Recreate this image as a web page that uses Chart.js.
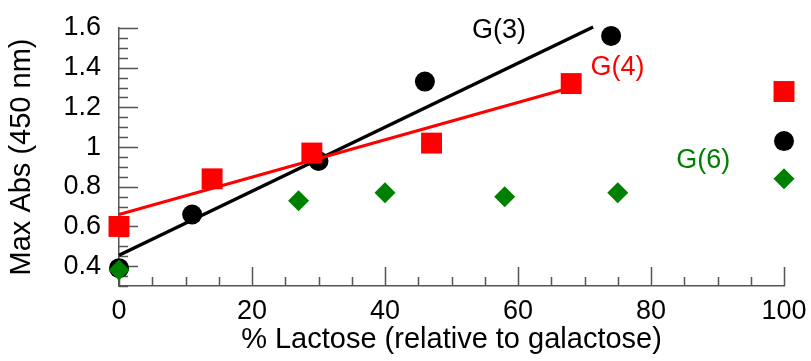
<!DOCTYPE html>
<html>
<head>
<meta charset="utf-8">
<script src="https://cdn.jsdelivr.net/npm/chart.js@4"></script>
<style>
  html, body { margin: 0; padding: 0; background: #fff; }
</style>
</head>
<body>
<canvas id="grafico" width="811" height="361"></canvas>
<script>
// dados
const lactoseG3 = [0, 11, 30, 46, 74, 100];
const absG3 = [0.39, 0.66, 0.93, 1.33, 1.56, 1.03];
const lactoseG4 = [0, 14, 29, 47, 68, 100];
const absG4 = [0.60, 0.84, 0.97, 1.02, 1.32, 1.28];
const lactoseG6 = [0, 27, 40, 58, 75, 100];
const absG6 = [0.38, 0.73, 0.77, 0.75, 0.77, 0.84];

// retas de ajuste (extremos)
const fitG3X = [0, 71.3];
const fitG3Y = [0.455, 1.605];
const fitG4X = [0, 68];
const fitG4Y = [0.66, 1.30];

const xTicks = [0, 20, 40, 60, 80, 100];
const yTicks = [0.4, 0.6, 0.8, 1, 1.2, 1.4, 1.6];
const yTickLabels = ['0.4', '0.6', '0.8', '1', '1.2', '1.4', '1.6'];

const seriesNames = ['G(3)', 'G(4)', 'G(6)'];
const nameAnchorX = [53.1, 70.9, 83.8];
const nameAnchorY = [1.585, 1.40, 0.93];

const preto = '#000000';
const vermelho = '#ff0000';
const verde = '#008000';
const corEixo = '#555555';

function pontos(xs, ys) {
  return xs.map((x, i) => ({ x: x, y: ys[i] }));
}

// sem folga extra dos rótulos, a área fica presa pelo padding do layout
function semFolga(s) {
  s.paddingTop = 0;
  s.paddingBottom = 0;
  s.paddingLeft = 0;
  s.paddingRight = 0;
}

Chart.defaults.font.family = "'Liberation Sans', Arial, sans-serif";
Chart.defaults.color = '#000';

// marcas dos eixos para dentro
const marcasEixos = {
  id: 'marcasEixos',
  beforeDatasetsDraw(chart) {
    const ctx = chart.ctx;
    const sx = chart.scales.x, sy = chart.scales.y;
    const area = chart.chartArea;
    ctx.save();
    ctx.strokeStyle = corEixo;
    ctx.lineWidth = 1.5;
    ctx.beginPath();
    for (let k = 0; k <= 20; k++) {
      const v = k * 5;
      const px = Math.round(sx.getPixelForValue(v)) + 0.5;
      const len = (v % 20 === 0) ? 19 : 9;
      ctx.moveTo(px, area.bottom);
      ctx.lineTo(px, area.bottom - len);
    }
    for (let k = 0; k <= 26; k++) {
      const v = 0.3 + k * 0.05;
      const py = Math.round(sy.getPixelForValue(v)) + 0.5;
      const major = yTicks.some(t => Math.abs(t - v) < 1e-6);
      const len = major ? 19 : 9;
      ctx.moveTo(area.left, py);
      ctx.lineTo(area.left + len, py);
    }
    ctx.stroke();
    ctx.restore();
  }
};

// nomes das séries
const nomesSeries = {
  id: 'nomesSeries',
  afterDatasetsDraw(chart) {
    const ctx = chart.ctx;
    const sx = chart.scales.x, sy = chart.scales.y;
    const cores = [preto, vermelho, verde];
    ctx.save();
    ctx.font = "27px 'Liberation Sans', Arial, sans-serif";
    ctx.textAlign = 'left';
    ctx.textBaseline = 'middle';
    seriesNames.forEach((nome, i) => {
      ctx.fillStyle = cores[i];
      ctx.fillText(nome, sx.getPixelForValue(nameAnchorX[i]), sy.getPixelForValue(nameAnchorY[i]));
    });
    ctx.restore();
  }
};

const ctxGrafico = document.getElementById('grafico').getContext('2d');
new Chart(ctxGrafico, {
  type: 'scatter',
  data: {
    datasets: [
      {
        label: 'G(6)',
        data: pontos(lactoseG6, absG6),
        pointStyle: 'rectRot',
        pointRadius: 10.5,
        pointBorderWidth: 0,
        backgroundColor: verde,
        borderColor: verde,
        order: 0,
        clip: false
      },
      {
        label: 'G(4)',
        data: pontos(lactoseG4, absG4),
        pointStyle: 'rect',
        pointRadius: 14.8,
        pointBorderWidth: 0,
        backgroundColor: vermelho,
        borderColor: vermelho,
        order: 1,
        clip: false
      },
      {
        label: 'ajuste G(4)',
        data: pontos(fitG4X, fitG4Y),
        showLine: true,
        pointRadius: 0,
        borderColor: vermelho,
        borderWidth: 3,
        order: 2,
        clip: false
      },
      {
        label: 'G(3)',
        data: pontos(lactoseG3, absG3),
        pointStyle: 'circle',
        pointRadius: 10,
        pointBorderWidth: 0,
        backgroundColor: preto,
        borderColor: preto,
        order: 3,
        clip: false
      },
      {
        label: 'ajuste G(3)',
        data: pontos(fitG3X, fitG3Y),
        showLine: true,
        pointRadius: 0,
        borderColor: preto,
        borderWidth: 3.5,
        order: 4,
        clip: false
      }
    ]
  },
  options: {
    responsive: false,
    animation: false,
    events: [],
    layout: { autoPadding: false, padding: { top: 28, right: 27, left: 0, bottom: 0 } },
    plugins: {
      legend: { display: false },
      tooltip: { enabled: false }
    },
    scales: {
      x: {
        type: 'linear',
        min: 0,
        max: 100,
        afterFit: s => { s.height = 75; semFolga(s); },
        afterBuildTicks: s => { s.ticks = xTicks.map(v => ({ value: v })); },
        grid: { display: false, drawTicks: false },
        border: { display: true, color: corEixo, width: 1.5 },
        ticks: {
          padding: 9,
          maxRotation: 0,
          font: { size: 27 },
          callback: v => String(v)
        },
        title: {
          display: true,
          text: '% Lactose (relative to galactose)',
          font: { size: 29 },
          padding: { top: 0, bottom: 4 }
        }
      },
      y: {
        type: 'linear',
        min: 0.3,
        max: 1.6,
        afterFit: s => { s.width = 119; semFolga(s); },
        afterBuildTicks: s => { s.ticks = yTicks.map(v => ({ value: v })); },
        grid: { display: false, drawTicks: false },
        border: { display: true, color: corEixo, width: 1.5 },
        ticks: {
          padding: 18,
          font: { size: 27 },
          callback: (v, i) => yTickLabels[i]
        },
        title: {
          display: true,
          text: 'Max Abs (450 nm)',
          font: { size: 29 },
          padding: { top: 5, bottom: 0 }
        }
      }
    }
  },
  plugins: [marcasEixos, nomesSeries]
});
</script>
</body>
</html>
